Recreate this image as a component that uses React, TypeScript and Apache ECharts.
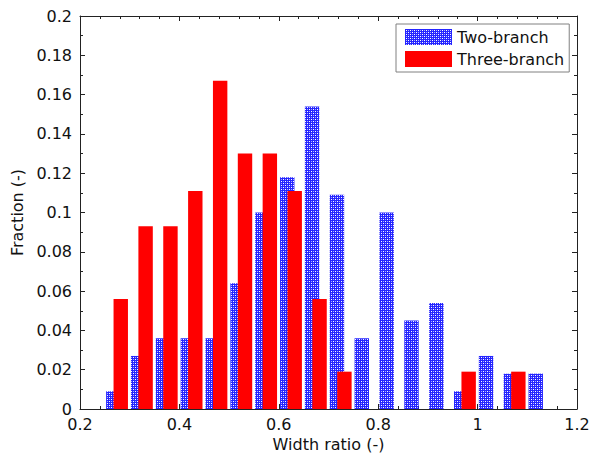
import { useEffect, useRef } from "react";
import * as echarts from "echarts";

const xMin = 0.2;
const xMax = 1.2;
const xInterval = 0.2;
const yMin = 0;
const yMax = 0.2;
const yInterval = 0.02;

const seriesNames = ["Two-branch", "Three-branch"];

const twoBranchX = [
  0.267, 0.317, 0.367, 0.417, 0.467, 0.517, 0.567, 0.617, 0.667, 0.717, 0.767,
  0.817, 0.867, 0.917, 0.967, 1.017, 1.067, 1.117,
];
const twoBranchFraction = [
  0.009, 0.027, 0.036, 0.036, 0.036, 0.064, 0.1, 0.118, 0.154, 0.109, 0.036,
  0.1, 0.045, 0.054, 0.009, 0.027, 0.018, 0.018,
];

const threeBranchX = [
  0.282, 0.332, 0.382, 0.432, 0.482, 0.532, 0.582, 0.632, 0.682, 0.732, 0.982,
  1.082,
];
const threeBranchFraction = [
  0.056, 0.093, 0.093, 0.111, 0.167, 0.13, 0.13, 0.111, 0.056, 0.019, 0.019,
  0.019,
];

const BAR_WIDTH = 0.029;
const FONT = "DejaVu Sans";

function makePattern() {
  const c = document.createElement("canvas");
  c.width = 4;
  c.height = 4;
  const ctx = c.getContext("2d")!;
  ctx.fillStyle = "#2424ff";
  ctx.fillRect(0, 0, 4, 4);
  ctx.fillStyle = "#ffffff";
  ctx.fillRect(1, 1, 1, 1);
  ctx.fillRect(3, 3, 1, 1);
  ctx.fillStyle = "#a8a8ff";
  ctx.fillRect(1, 3, 1, 1);
  ctx.fillRect(3, 1, 1, 1);
  return {
    image: c.toDataURL(),
    repeat: "repeat",
    imageWidth: 4,
    imageHeight: 4,
  } as any;
}

export default function App() {
  const ref = useRef<HTMLDivElement>(null);

  useEffect(() => {
    if (!ref.current) return;
    const chart = echarts.init(ref.current, null, { renderer: "svg" });
    const pattern = makePattern();

    const renderBar = (fill: any) => (params: any, api: any) => {
      const x = api.value(0);
      const y = api.value(1);
      const tl = api.coord([x - BAR_WIDTH / 2, y]);
      const br = api.coord([x + BAR_WIDTH / 2, 0]);
      return {
        type: "rect",
        shape: { x: tl[0], y: tl[1], width: br[0] - tl[0], height: br[1] - tl[1] },
        style: { fill },
      };
    };

    const axisCommon = {
      axisLine: { show: true, onZero: false, lineStyle: { color: "#222", width: 1 } },
      axisTick: { show: true, inside: true, length: 5, lineStyle: { color: "#222" } },
      minorTick: { show: true, length: 3, lineStyle: { color: "#222" } },
      splitLine: { show: false },
      minorSplitLine: { show: false },
    };

    const labelStyle = { color: "#111", fontSize: 16, fontFamily: FONT };

    chart.setOption({
      animation: false,
      backgroundColor: "#ffffff",
      textStyle: { fontFamily: FONT },
      grid: { left: 80, right: 20, top: 16, bottom: 46, containLabel: false, outerBoundsMode: "none" },
      legend: {
        orient: "vertical",
        left: 396,
        top: 24,
        padding: [5, 5, 5, 9],
        itemWidth: 47,
        itemHeight: 16,
        itemGap: 6,
        icon: "rect",
        borderColor: "#808080",
        borderWidth: 1,
        backgroundColor: "#fff",
        textStyle: { ...labelStyle },
        data: seriesNames,
      },
      xAxis: [
        {
          type: "value",
          min: xMin,
          max: xMax,
          interval: xInterval,
          position: "bottom",
          name: "Width ratio (-)",
          nameLocation: "middle",
          nameGap: 26,
          nameTextStyle: { ...labelStyle },
          axisLabel: { ...labelStyle, margin: 7 },
          ...axisCommon,
          minorTick: { ...axisCommon.minorTick, splitNumber: 5 },
        },
        {
          type: "value",
          min: xMin,
          max: xMax,
          interval: xInterval,
          position: "top",
          axisLabel: { show: false },
          ...axisCommon,
          minorTick: { ...axisCommon.minorTick, splitNumber: 5 },
        },
      ],
      yAxis: [
        {
          type: "value",
          min: yMin,
          max: yMax,
          interval: yInterval,
          position: "left",
          name: "Fraction (-)",
          nameLocation: "middle",
          nameGap: 48,
          nameTextStyle: { ...labelStyle },
          axisLabel: { ...labelStyle, margin: 8 },
          ...axisCommon,
          minorTick: { ...axisCommon.minorTick, splitNumber: 2 },
        },
        {
          type: "value",
          min: yMin,
          max: yMax,
          interval: yInterval,
          position: "right",
          axisLabel: { show: false },
          ...axisCommon,
          minorTick: { ...axisCommon.minorTick, splitNumber: 2 },
        },
      ],
      series: [
        {
          name: seriesNames[0],
          type: "custom",
          xAxisIndex: 0,
          yAxisIndex: 0,
          itemStyle: { color: pattern },
          renderItem: renderBar(pattern),
          data: twoBranchX.map((x, i) => [x, twoBranchFraction[i]]),
          z: 2,
        },
        {
          name: seriesNames[1],
          type: "custom",
          xAxisIndex: 0,
          yAxisIndex: 0,
          itemStyle: { color: "#ff0000" },
          renderItem: renderBar("#ff0000"),
          data: threeBranchX.map((x, i) => [x, threeBranchFraction[i]]),
          z: 3,
        },
      ],
    });

    return () => chart.dispose();
  }, []);

  return (
    <div
      ref={ref}
      style={{ position: "fixed", left: 0, top: 0, width: 597, height: 455 }}
    />
  );
}
